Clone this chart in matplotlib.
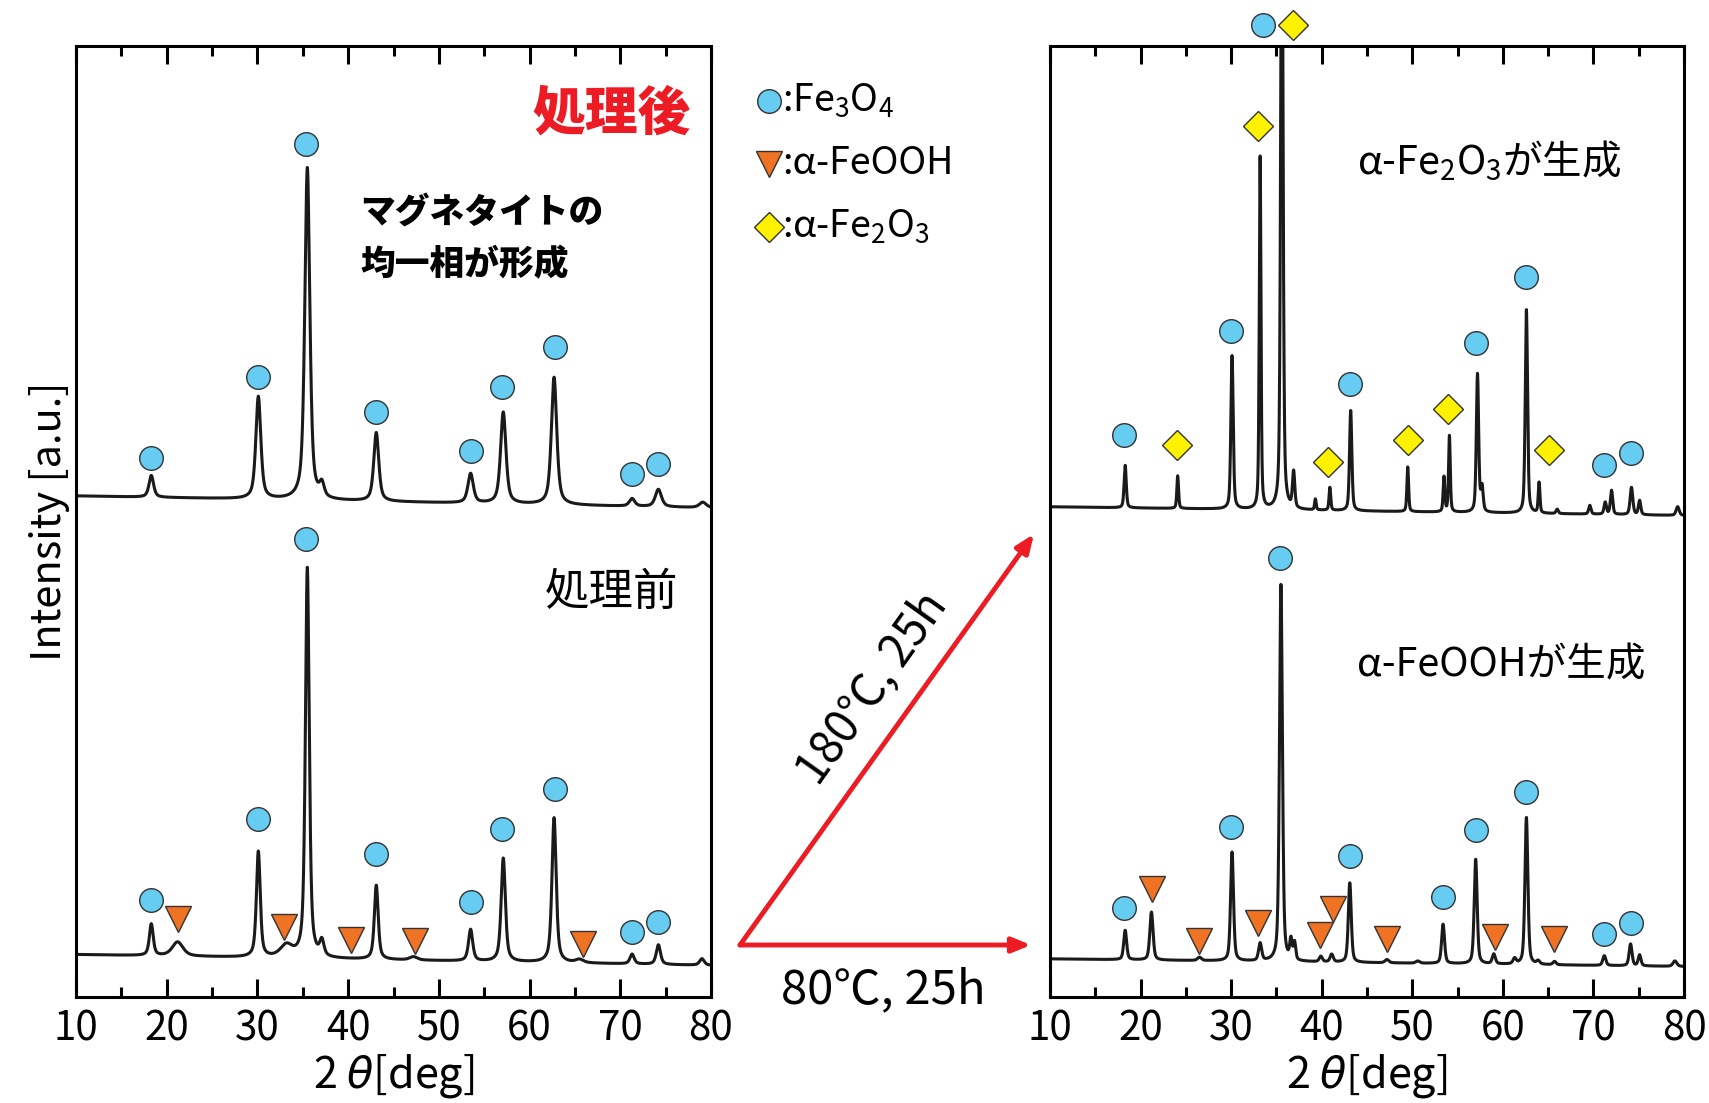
import numpy as np
import matplotlib
matplotlib.use("Agg")
import matplotlib.pyplot as plt
from matplotlib.ticker import MultipleLocator

plt.rcParams['font.family'] = ['Noto Sans CJK JP', 'DejaVu Sans']
plt.rcParams['mathtext.fontset'] = 'custom'
plt.rcParams['mathtext.rm'] = 'Noto Sans CJK JP'
plt.rcParams['mathtext.it'] = 'DejaVu Sans:italic'

# --- Peak lists (2theta [deg], height [a.u.], FWHM [deg]) ---
# Left panel, upper trace : after treatment (処理後)
after_bg = (460, 449)
after_pos = [18.3, 30.1, 35.5, 37.1, 43.1, 53.5, 57.1, 62.7, 71.3, 74.2, 79.1]
after_amp = [20, 94, 305, 12, 63, 27, 84, 117, 7, 16, 5]
after_fwhm = [0.6, 0.65, 0.65, 0.6, 0.65, 0.7, 0.7, 0.7, 0.7, 0.8, 0.9]

# Left panel, lower trace : before treatment (処理前)
before_bg = (39, 29)
before_pos = [18.3, 21.2, 30.1, 33.2, 35.5, 37.1, 43.1, 47.2, 53.5, 57.1, 62.7, 65.5, 71.3, 74.2, 79.0]
before_amp = [29, 13, 97, 11, 358, 14, 68, 3, 29, 95, 133, 3, 9, 18, 6]
before_fwhm = [0.5, 1.4, 0.5, 1.6, 0.5, 0.55, 0.5, 1.0, 0.55, 0.55, 0.55, 1.0, 0.55, 0.55, 0.6]

# Right panel, upper trace : 180 C, 25 h (alpha-Fe2O3 formed)
hem_bg = (450, 442)
hem_pos = [18.3, 24.1, 30.1, 33.2, 35.6, 36.9, 39.3, 40.9, 43.2, 49.5, 53.5, 54.1,
           57.2, 57.7, 62.6, 64.0, 66.0, 69.6, 71.3, 72.0, 74.2, 75.1, 79.3]
hem_amp = [39, 30, 141, 324, 620, 33, 10, 21, 92, 41, 32, 70,
           127, 22, 187, 28, 4, 8, 11, 22, 25, 13, 8]
hem_fwhm = [0.28, 0.22, 0.3, 0.22, 0.3, 0.3, 0.2, 0.22, 0.3, 0.22, 0.22, 0.22,
            0.3, 0.3, 0.3, 0.22, 0.3, 0.3, 0.3, 0.3, 0.35, 0.3, 0.4]

# Right panel, lower trace : 80 C, 25 h (alpha-FeOOH formed)
goe_bg = (35, 28)
goe_pos = [18.3, 21.2, 26.5, 33.2, 30.1, 35.5, 36.6, 37.0, 39.9, 41.1, 43.1, 47.2, 50.6,
           53.4, 57.0, 59.0, 61.3, 62.6, 63.9, 65.7, 71.2, 74.1, 75.1, 79.0]
goe_amp = [27, 44, 3, 16, 100, 346, 18, 16, 5, 7, 73, 3, 2,
           36, 96, 9, 5, 135, 3, 3, 9, 20, 10, 5]
goe_fwhm = [0.38, 0.42, 0.5, 0.4, 0.38, 0.38, 0.3, 0.3, 0.4, 0.4, 0.38, 0.5, 0.5,
            0.38, 0.38, 0.4, 0.4, 0.38, 0.4, 0.4, 0.4, 0.38, 0.35, 0.5]

# --- Phase markers (2theta, height) ---
after_fe3o4_x = [18.3, 30.1, 35.4, 43.1, 53.5, 57.0, 62.8, 71.3, 74.2]
after_fe3o4_y = [495, 569, 783, 537, 501, 560, 597, 480, 489]

before_fe3o4_x = [18.3, 30.1, 35.4, 43.1, 53.5, 57.0, 62.8, 71.3, 74.2]
before_fe3o4_y = [89, 163, 420, 131, 87, 154, 191, 60, 69]
before_feooh_x = [21.2, 32.9, 40.3, 47.4, 65.9]
before_feooh_y = [72, 64, 52, 51, 49]

hem_fe3o4_x = [18.2, 30.0, 33.5, 43.1, 57.0, 62.6, 71.2, 74.1]
hem_fe3o4_y = [516, 611, 892, 563, 600, 661, 488, 499]
hem_fe2o3_x = [24.0, 33.0, 36.8, 40.7, 49.5, 53.9, 65.1]
hem_fe2o3_y = [507, 800, 892, 491, 511, 540, 502]

goe_fe3o4_x = [18.2, 30.0, 35.4, 43.1, 53.4, 57.0, 62.6, 71.2, 74.1]
goe_fe3o4_y = [82, 156, 403, 129, 92, 153, 188, 58, 68]
goe_feooh_x = [21.3, 26.4, 33.0, 39.8, 41.2, 47.2, 59.1, 65.7]
goe_feooh_y = [99, 51, 68, 57, 81, 53, 55, 53]

tick_major = [10, 20, 30, 40, 50, 60, 70, 80]

C_FE3O4 = '#66ccf2'
C_FEOOH = '#f07324'
C_FE2O3 = '#fff200'
RED = '#ed1c24'

two_theta = np.linspace(10, 80, 4001)


def pattern(bg, pos, amp, fwhm, eta=0.45):
    # linear background + pseudo-Voigt peaks
    y = bg[0] + (bg[1] - bg[0]) * (two_theta - 10) / 70
    for p, a, w in zip(pos, amp, fwhm):
        d = (two_theta - p) / w
        g = np.exp(-4 * np.log(2) * d ** 2)
        l = 1 / (1 + 4 * d ** 2)
        y = y + a * ((1 - eta) * g + eta * l)
    return y


def markers(ax, xs, ys, kind):
    style = {
        'o': dict(marker='o', markersize=17, markerfacecolor=C_FE3O4),
        'v': dict(marker='v', markersize=19, markerfacecolor=C_FEOOH),
        'D': dict(marker='D', markersize=15, markerfacecolor=C_FE2O3),
    }[kind]
    ax.plot(xs, ys, ls='none', markeredgecolor='#333333', markeredgewidth=1.0,
            clip_on=False, zorder=5, **style)


def style_axes(ax):
    ax.set_xlim(10, 80)
    ax.set_ylim(0, 873)
    ax.set_yticks([])
    ax.set_xticks(tick_major)
    ax.xaxis.set_minor_locator(MultipleLocator(5))
    ax.tick_params(axis='x', which='both', direction='in', top=True, bottom=True,
                   width=2.2, labelsize=29, pad=8)
    ax.tick_params(axis='x', which='major', length=13)
    ax.tick_params(axis='x', which='minor', length=7)
    for s in ax.spines.values():
        s.set_linewidth(2.2)
    ax.set_xlabel(r'2 $\theta$[deg]', fontsize=31, labelpad=2)


fig = plt.figure(figsize=(17.09, 11.03), dpi=100)
ax_l = fig.add_axes([76 / 1709, 1 - 997 / 1103, 635 / 1709, 951 / 1103])
ax_r = fig.add_axes([1050 / 1709, 1 - 997 / 1103, 634 / 1709, 951 / 1103])

LW = 2.2
# left panel
ax_l.plot(two_theta, pattern(after_bg, after_pos, after_amp, after_fwhm, 0.6), color='#1a1a1a', lw=LW)
ax_l.plot(two_theta, pattern(before_bg, before_pos, before_amp, before_fwhm, 0.6), color='#1a1a1a', lw=LW)
markers(ax_l, after_fe3o4_x, after_fe3o4_y, 'o')
markers(ax_l, before_fe3o4_x, before_fe3o4_y, 'o')
markers(ax_l, before_feooh_x, before_feooh_y, 'v')
style_axes(ax_l)
ax_l.set_ylabel('Intensity [a.u.]', fontsize=30, labelpad=4)

# right panel
ax_r.plot(two_theta, pattern(hem_bg, hem_pos, hem_amp, hem_fwhm), color='#1a1a1a', lw=LW)
ax_r.plot(two_theta, pattern(goe_bg, goe_pos, goe_amp, goe_fwhm), color='#1a1a1a', lw=LW)
markers(ax_r, hem_fe3o4_x, hem_fe3o4_y, 'o')
markers(ax_r, hem_fe2o3_x, hem_fe2o3_y, 'D')
markers(ax_r, goe_fe3o4_x, goe_fe3o4_y, 'o')
markers(ax_r, goe_feooh_x, goe_feooh_y, 'v')
style_axes(ax_r)

# overlay in pixel coordinates for annotations
ov = fig.add_axes([0, 0, 1, 1], zorder=10)
ov.set_xlim(0, 1709)
ov.set_ylim(1103, 0)
ov.axis('off')
ov.patch.set_alpha(0)

ov.text(612, 114, '処理後', color=RED, fontsize=38, fontweight='heavy', ha='center', va='center')
ov.text(360, 212, 'マグネタイトの', fontsize=25, fontweight='heavy', ha='left', va='center')
ov.text(360, 265, '均一相が形成', fontsize=25, fontweight='heavy', ha='left', va='center')
ov.text(612, 592, '処理前', fontsize=32, ha='center', va='center')
ov.text(1357, 160, r'α-Fe$_2$O$_3$が生成', fontsize=28.5, ha='left', va='center')
ov.text(1357, 665, 'α-FeOOHが生成', fontsize=28.5, ha='left', va='center')

# phase legend
leg_y = [101, 164, 227]
leg_marker = [('o', C_FE3O4, 17), ('v', C_FEOOH, 19), ('D', C_FE2O3, 15)]
leg_text = [r':Fe$_3$O$_4$', ':α-FeOOH', r':α-Fe$_2$O$_3$']
for y, (m, c, ms), t in zip(leg_y, leg_marker, leg_text):
    ov.plot([769], [y], marker=m, markersize=ms, markerfacecolor=c,
            markeredgecolor='#333333', markeredgewidth=1.0, ls='none')
    ov.text(782, y, t, fontsize=27, ha='left', va='center')

# process arrows
arrow_kw = dict(arrowstyle='-|>,head_length=1.1,head_width=0.45', color=RED, lw=3.5,
                shrinkA=0, shrinkB=0)
ov.annotate('', xy=(1031, 945), xytext=(740, 945), arrowprops=arrow_kw)
ov.annotate('', xy=(1034, 534), xytext=(740, 945), arrowprops=arrow_kw)
ov.text(883, 990, '80℃, 25h', fontsize=34, ha='center', va='center')
ov.text(872, 688, '180℃, 25h', fontsize=33, ha='center', va='center', rotation=54.5,
        rotation_mode='anchor')

fig.savefig('out.png', dpi=100)
